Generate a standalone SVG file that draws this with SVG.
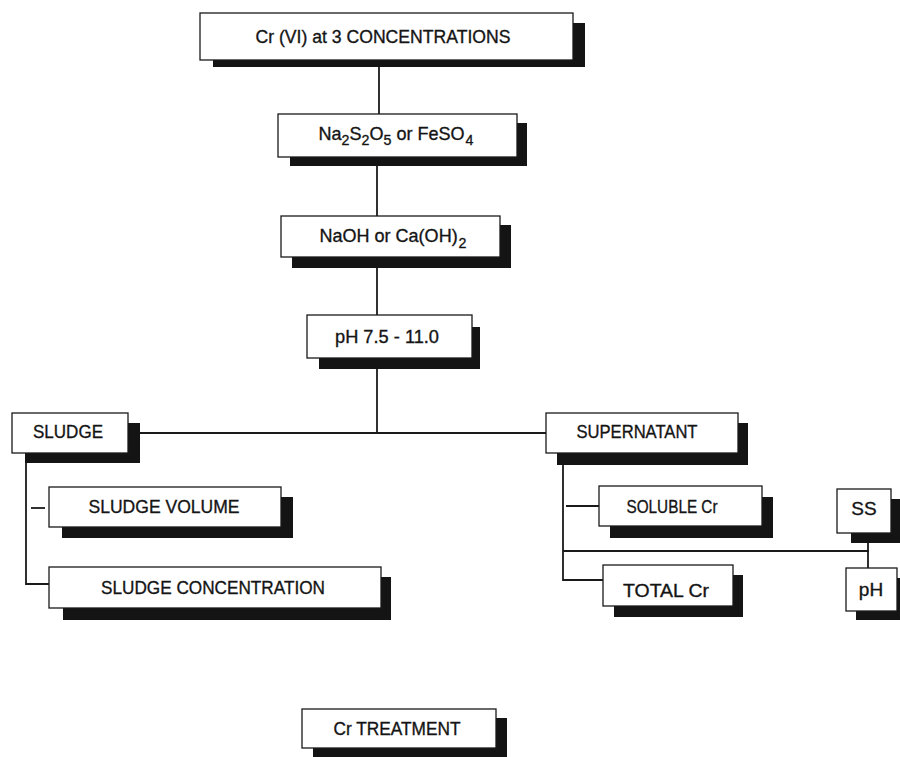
<svg xmlns="http://www.w3.org/2000/svg" width="900" height="757" viewBox="0 0 900 757">
  <style>
    .box { fill: #ffffff; stroke: #1a1a1a; stroke-width: 1.3; }
    .shd { fill: #141414; }
    .lbl { font-family: "Liberation Sans", Arial, sans-serif; font-size: 19px; fill: #141414; stroke: #141414; stroke-width: 0.35; text-anchor: middle; }
    .sub { font-size: 15px; }
    .wire { stroke: #1a1a1a; stroke-width: 1.8; fill: none; }
  </style>
  <rect width="900" height="757" fill="#ffffff"/>

  <!-- connectors -->
  <g id="connectors">
    <line class="wire" x1="379" y1="67" x2="379" y2="114"/>
    <line class="wire" x1="377" y1="166" x2="377" y2="216"/>
    <line class="wire" x1="377" y1="268" x2="377" y2="315"/>
    <line class="wire" x1="377" y1="369" x2="377" y2="433"/>
    <line class="wire" x1="140" y1="433" x2="546" y2="433"/>
    <!-- sludge branch -->
    <polyline class="wire" points="26,463 26,584 49,584"/>
    <line class="wire" x1="31" y1="508" x2="45" y2="508"/>
    <!-- supernatant branch -->
    <polyline class="wire" points="563,465 563,580 603,580"/>
    <line class="wire" x1="566" y1="506" x2="599" y2="506"/>
    <line class="wire" x1="563" y1="551" x2="869" y2="551"/>
    <line class="wire" x1="868" y1="543" x2="868" y2="568"/>
  </g>

  <g id="cr-vi">
    <rect class="shd" x="213" y="60" width="372" height="7"/>
    <rect class="shd" x="573" y="23" width="12" height="44"/>
    <rect class="box" x="200" y="13" width="373" height="47"/>
    <text class="lbl" x="383" y="43" textLength="255" lengthAdjust="spacingAndGlyphs">Cr (VI) at 3 CONCENTRATIONS</text>
  </g>

  <g id="reductant">
    <rect class="shd" x="290" y="157" width="237" height="9"/>
    <rect class="shd" x="517" y="123" width="10" height="43"/>
    <rect class="box" x="278" y="114" width="239" height="43"/>
    <text class="lbl" x="396" y="140" textLength="155" lengthAdjust="spacingAndGlyphs">Na<tspan class="sub" dy="5">2</tspan><tspan dy="-5">S</tspan><tspan class="sub" dy="5">2</tspan><tspan dy="-5">O</tspan><tspan class="sub" dy="5">5</tspan><tspan dy="-5"> or FeSO</tspan><tspan class="sub" dx="1" dy="5">4</tspan></text>
  </g>

  <g id="base">
    <rect class="shd" x="292" y="257" width="219" height="11"/>
    <rect class="shd" x="500" y="225" width="11" height="43"/>
    <rect class="box" x="281" y="216" width="219" height="41"/>
    <text class="lbl" x="393" y="242" textLength="147" lengthAdjust="spacingAndGlyphs">NaOH  or Ca(OH)<tspan class="sub" dx="1" dy="6">2</tspan></text>
  </g>

  <g id="ph-range">
    <rect class="shd" x="319" y="358" width="161" height="11"/>
    <rect class="shd" x="472" y="327" width="8" height="42"/>
    <rect class="box" x="307" y="315" width="165" height="43"/>
    <text class="lbl" x="387" y="343" textLength="104" lengthAdjust="spacingAndGlyphs">pH 7.5 - 11.0</text>
  </g>

  <g id="sludge">
    <rect class="shd" x="25" y="453" width="115" height="10"/>
    <rect class="shd" x="128" y="423" width="12" height="40"/>
    <rect class="box" x="12" y="413" width="116" height="40"/>
    <text class="lbl" x="68" y="438" textLength="70" lengthAdjust="spacingAndGlyphs">SLUDGE</text>
  </g>

  <g id="sludge-volume">
    <rect class="shd" x="62" y="527" width="231" height="11"/>
    <rect class="shd" x="281" y="497" width="12" height="41"/>
    <rect class="box" x="49" y="487" width="232" height="40"/>
    <text class="lbl" x="164" y="513" textLength="151" lengthAdjust="spacingAndGlyphs">SLUDGE VOLUME</text>
  </g>

  <g id="sludge-concentration">
    <rect class="shd" x="63" y="608" width="328" height="12"/>
    <rect class="shd" x="381" y="577" width="10" height="43"/>
    <rect class="box" x="49" y="567" width="332" height="41"/>
    <text class="lbl" x="213" y="594" textLength="224" lengthAdjust="spacingAndGlyphs">SLUDGE CONCENTRATION</text>
  </g>

  <g id="supernatant">
    <rect class="shd" x="557" y="453" width="191" height="12"/>
    <rect class="shd" x="738" y="423" width="10" height="42"/>
    <rect class="box" x="546" y="413" width="192" height="40"/>
    <text class="lbl" x="637" y="438" textLength="121" lengthAdjust="spacingAndGlyphs">SUPERNATANT</text>
  </g>

  <g id="soluble-cr">
    <rect class="shd" x="610" y="526" width="163" height="12"/>
    <rect class="shd" x="762" y="497" width="11" height="41"/>
    <rect class="box" x="599" y="486" width="163" height="40"/>
    <text class="lbl" x="672" y="513" textLength="91" lengthAdjust="spacingAndGlyphs">SOLUBLE Cr</text>
  </g>

  <g id="total-cr">
    <rect class="shd" x="614" y="606" width="129" height="11"/>
    <rect class="shd" x="733" y="575" width="10" height="42"/>
    <rect class="box" x="603" y="565" width="130" height="41"/>
    <text class="lbl" x="666" y="597" textLength="86" lengthAdjust="spacingAndGlyphs">TOTAL Cr</text>
  </g>

  <g id="ss">
    <rect class="shd" x="851" y="533" width="49" height="10"/>
    <rect class="shd" x="891" y="499" width="9" height="44"/>
    <rect class="box" x="837" y="489" width="54" height="44"/>
    <text class="lbl" x="864" y="515">SS</text>
  </g>

  <g id="ph">
    <rect class="shd" x="856" y="611" width="44" height="9"/>
    <rect class="shd" x="897" y="578" width="3" height="42"/>
    <rect class="box" x="846" y="568" width="51" height="43"/>
    <text class="lbl" x="871" y="596">pH</text>
  </g>

  <g id="cr-treatment">
    <rect class="shd" x="313" y="748" width="194" height="9"/>
    <rect class="shd" x="496" y="718" width="11" height="39"/>
    <rect class="box" x="302" y="709" width="194" height="39"/>
    <text class="lbl" x="397" y="735" textLength="127" lengthAdjust="spacingAndGlyphs">Cr TREATMENT</text>
  </g>
</svg>
